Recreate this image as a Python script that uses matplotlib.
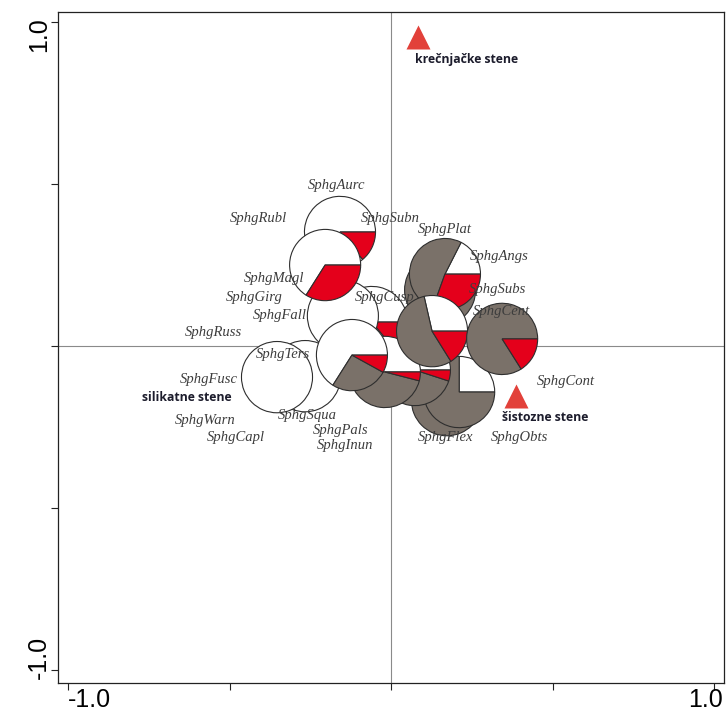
import numpy as np
import matplotlib.pyplot as plt
from matplotlib.patches import Wedge
from matplotlib.transforms import blended_transform_factory

# species scores (labels only)
species = ['SphgAurc', 'SphgRubl', 'SphgSubn', 'SphgPlat', 'SphgAngs', 'SphgMagl',
           'SphgGirg', 'SphgSubs', 'SphgCusp', 'SphgFall', 'SphgCent', 'SphgRuss',
           'SphgTers', 'SphgFusc', 'SphgCont', 'SphgSqua', 'SphgWarn', 'SphgPals',
           'SphgCapl', 'SphgInun', 'SphgFlex', 'SphgObts']
species_x = [-0.167, -0.409, -0.003, 0.167, 0.334, -0.362, -0.424, 0.331, -0.019, -0.344, 0.341,
             -0.551, -0.334, -0.563, 0.542, -0.260, -0.576, -0.155, -0.480, -0.142, 0.170, 0.399]
species_y = [0.494, 0.395, 0.395, 0.361, 0.275, 0.207, 0.151, 0.176, 0.151, 0.093, 0.108,
             0.043, -0.025, -0.102, -0.111, -0.213, -0.231, -0.262, -0.281, -0.306, -0.281, -0.281]

# sample scores with share of each rock type (silicate, schist, limestone)
sample_x = [-0.266, -0.353, -0.059, -0.149, -0.158, -0.204, 0.152, 0.167, 0.173, 0.211,
            0.074, -0.019, -0.121, 0.127, 0.344]
sample_y = [-0.093, -0.096, 0.074, 0.093, 0.352, 0.250, 0.173, 0.222, -0.167, -0.142,
            -0.074, -0.080, -0.028, 0.046, 0.022]
share_silikat = [1.00, 1.00, 0.86, 1.00, 0.86, 0.66, 0.00, 0.175, 0.00, 0.25, 0.50, 0.50, 0.66, 0.286, 0.00]
share_sist = [0.00, 0.00, 0.00, 0.00, 0.00, 0.00, 1.00, 0.52, 1.00, 0.75, 0.45, 0.46, 0.26, 0.553, 0.84]
share_krec = [0.00, 0.00, 0.14, 0.00, 0.14, 0.34, 0.00, 0.305, 0.00, 0.00, 0.05, 0.04, 0.08, 0.161, 0.16]

# environmental variables (centroids)
env_names = ['krečnjačke stene', 'silikatne stene', 'šistozne stene']
env_x = [0.084, None, 0.387]
env_y = [0.954, None, -0.154]
env_label_x = [0.235, -0.632, 0.477]
env_label_y = [0.883, -0.160, -0.222]

pie_colors = ['#ffffff', '#7a7169', '#e4001b']
pie_radius = 0.11

fig = plt.figure(figsize=(7.27, 7.19), dpi=100)
ax = fig.add_axes([0.0798, 0.0501, 0.9161, 0.9332])
ax.set_xlim(-1.031, 1.031)
ax.set_ylim(-1.040, 1.031)

ax.axhline(0, color='#8a8a8a', lw=0.8, zorder=1)
ax.axvline(0, color='#8a8a8a', lw=0.8, zorder=1)

# pie charts for samples, slices counterclockwise from east
for i in range(len(sample_x)):
    shares = [share_silikat[i], share_sist[i], share_krec[i]]
    total = sum(shares)
    start = 0.0
    for frac, col in zip(shares, pie_colors):
        if frac <= 0:
            continue
        end = start + 360.0 * frac / total
        w = Wedge((sample_x[i], sample_y[i]), pie_radius, start, end,
                  facecolor=col, edgecolor='#2e2e2e', lw=0.8, zorder=2 + i * 0.01)
        ax.add_patch(w)
        start = end

for name, x, y in zip(species, species_x, species_y):
    ax.text(x, y, name, family='Liberation Serif', style='italic', fontsize=10.5,
            color='#3d3d3d', ha='center', va='center', zorder=5)

for name, x, y, lx, ly in zip(env_names, env_x, env_y, env_label_x, env_label_y):
    if x is not None:
        ax.plot(x, y, marker='^', ms=17, color='#e2413a', mec='none', zorder=4)
    ax.text(lx, ly, name, family='Open Sans', weight='bold', fontsize=8.8,
            color='#1c1c2c', ha='center', va='center', zorder=5)

# ticks, labels only at the ends
ticks = [-1.0, -0.5, 0.0, 0.5, 1.0]
ax.set_xticks(ticks)
ax.set_yticks(ticks)
ax.set_xticklabels([])
ax.set_yticklabels([])
ax.tick_params(direction='out', length=5, width=0.8, color='#222222')
for sp in ax.spines.values():
    sp.set_linewidth(0.9)
    sp.set_color('#222222')

tx = blended_transform_factory(ax.transData, ax.transAxes)
ty = blended_transform_factory(ax.transAxes, ax.transData)
ax.text(-0.935, -0.026, '-1.0', transform=tx, family='Liberation Sans', fontsize=18,
        ha='center', va='center', clip_on=False)
ax.text(0.975, -0.026, '1.0', transform=tx, family='Liberation Sans', fontsize=18,
        ha='center', va='center', clip_on=False)
ax.text(-0.028, 0.962, '1.0', transform=ty, family='Liberation Sans', fontsize=18,
        rotation=90, ha='center', va='center', clip_on=False)
ax.text(-0.028, -0.96, '-1.0', transform=ty, family='Liberation Sans', fontsize=18,
        rotation=90, ha='center', va='center', clip_on=False)

fig.savefig('out.png', dpi=100)
